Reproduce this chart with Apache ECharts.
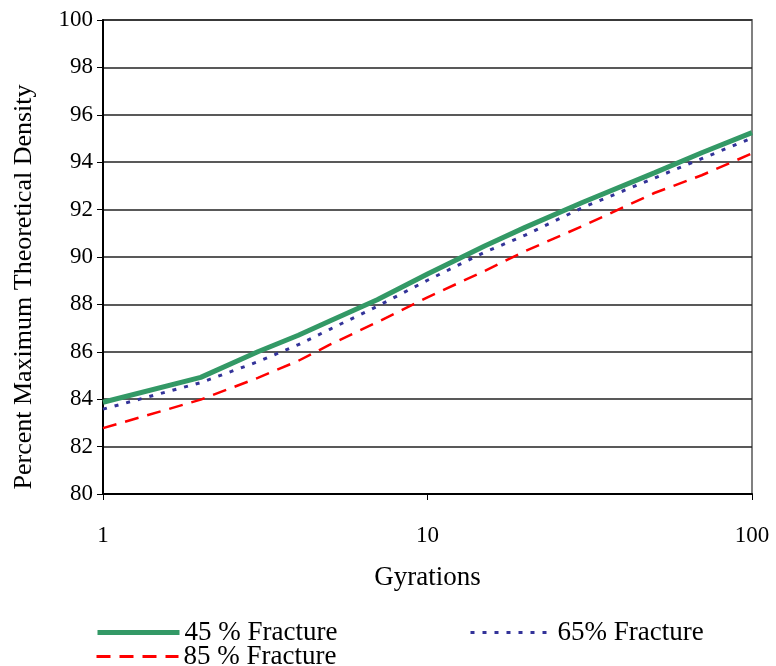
<!DOCTYPE html>
<html>
<head>
<meta charset="utf-8">
<script src="https://cdn.jsdelivr.net/npm/echarts@6/dist/echarts.min.js"></script>
<style>html,body{margin:0;padding:0;background:#fff}#c{width:776px;height:666px}</style>
</head>
<body>
<div id="c"></div>
<script>
const gyrations = [1, 2, 3, 4, 5, 7, 10, 15, 20, 30, 50, 70, 100];
const frac45 = [83.87, 84.92, 86.00, 86.70, 87.30, 88.20, 89.28, 90.46, 91.25, 92.30, 93.55, 94.40, 95.25];
const frac65 = [83.58, 84.70, 85.58, 86.30, 86.95, 87.92, 89.02, 90.20, 90.92, 92.08, 93.33, 94.15, 95.02];
const frac85 = [82.78, 83.98, 84.90, 85.62, 86.30, 87.25, 88.30, 89.41, 90.25, 91.30, 92.70, 93.45, 94.37];
const seriesNames = ['45 % Fracture', '65% Fracture', '85 % Fracture'];
const yTicks = [80, 82, 84, 86, 88, 90, 92, 94, 96, 98, 100];
const xTicks = [1, 10, 100];

const pairs = v => gyrations.map((g, i) => [g, v[i]]);
const font = 'Liberation Serif, Times New Roman, serif';
const legendCommon = {
  itemWidth: 82, itemHeight: 14,
  itemStyle: {color: 'transparent', borderColor: 'transparent', borderWidth: 0},
  textStyle: {fontFamily: font, fontSize: 27, color: '#000'}
};
const chart = echarts.init(document.getElementById('c'), null, {renderer: 'canvas'});
chart.setOption({
  animation: false,
  backgroundColor: '#fff',
  textStyle: {fontFamily: font, color: '#000'},
  grid: {left: 103, right: 24, top: 20, bottom: 172, containLabel: false, outerBoundsMode: 'none',
         show: true, borderColor: '#808080', borderWidth: 2, backgroundColor: '#fff'},
  xAxis: {
    type: 'log', logBase: 10, min: xTicks[0], max: xTicks[xTicks.length - 1],
    name: 'Gyrations', nameLocation: 'middle', nameGap: 70,
    nameTextStyle: {fontFamily: font, fontSize: 27, color: '#000'},
    axisLine: {lineStyle: {color: '#000', width: 2}},
    axisTick: {show: true, length: 6, lineStyle: {color: '#000'}},
    minorTick: {show: false},
    splitLine: {show: false},
    axisLabel: {fontFamily: font, fontSize: 23, color: '#000', margin: 30}
  },
  yAxis: {
    type: 'value', min: yTicks[0], max: yTicks[yTicks.length - 1], interval: 2,
    name: 'Percent Maximum Theoretical Density', nameLocation: 'middle', nameGap: 66,
    nameTextStyle: {fontFamily: font, fontSize: 26, color: '#000', padding: [0, 60, 0, 0]},
    axisLine: {show: true, lineStyle: {color: '#000', width: 2}},
    axisTick: {show: true, length: 6, lineStyle: {color: '#000'}},
    splitLine: {show: true, lineStyle: {color: '#222', width: 1.5}},
    axisLabel: {fontFamily: font, fontSize: 23, color: '#000', margin: 10}
  },
  legend: [
    Object.assign({left: 90, top: 614, data: [{name: seriesNames[0], lineStyle: {width: 5}}]}, legendCommon),
    Object.assign({left: 464, top: 614, data: [{name: seriesNames[1], lineStyle: {width: 3}}]}, legendCommon),
    Object.assign({left: 90, top: 638, data: [{name: seriesNames[2], lineStyle: {width: 3}}]}, legendCommon)
  ],
  series: [
    {name: seriesNames[0], type: 'line', data: pairs(frac45), symbol: 'none', showSymbol: false,
     lineStyle: {color: '#339966', width: 5}, itemStyle: {color: '#339966'}, z: 3},
    {name: seriesNames[1], type: 'line', data: pairs(frac65), symbol: 'none', showSymbol: false,
     lineStyle: {color: '#333399', width: 3, type: [4, 8]}, itemStyle: {color: '#333399'}, z: 4},
    {name: seriesNames[2], type: 'line', data: pairs(frac85), symbol: 'none', showSymbol: false,
     lineStyle: {color: '#FF0000', width: 2.5, type: [14, 9]}, itemStyle: {color: '#FF0000'}, z: 2}
  ]
});
</script>
</body>
</html>
